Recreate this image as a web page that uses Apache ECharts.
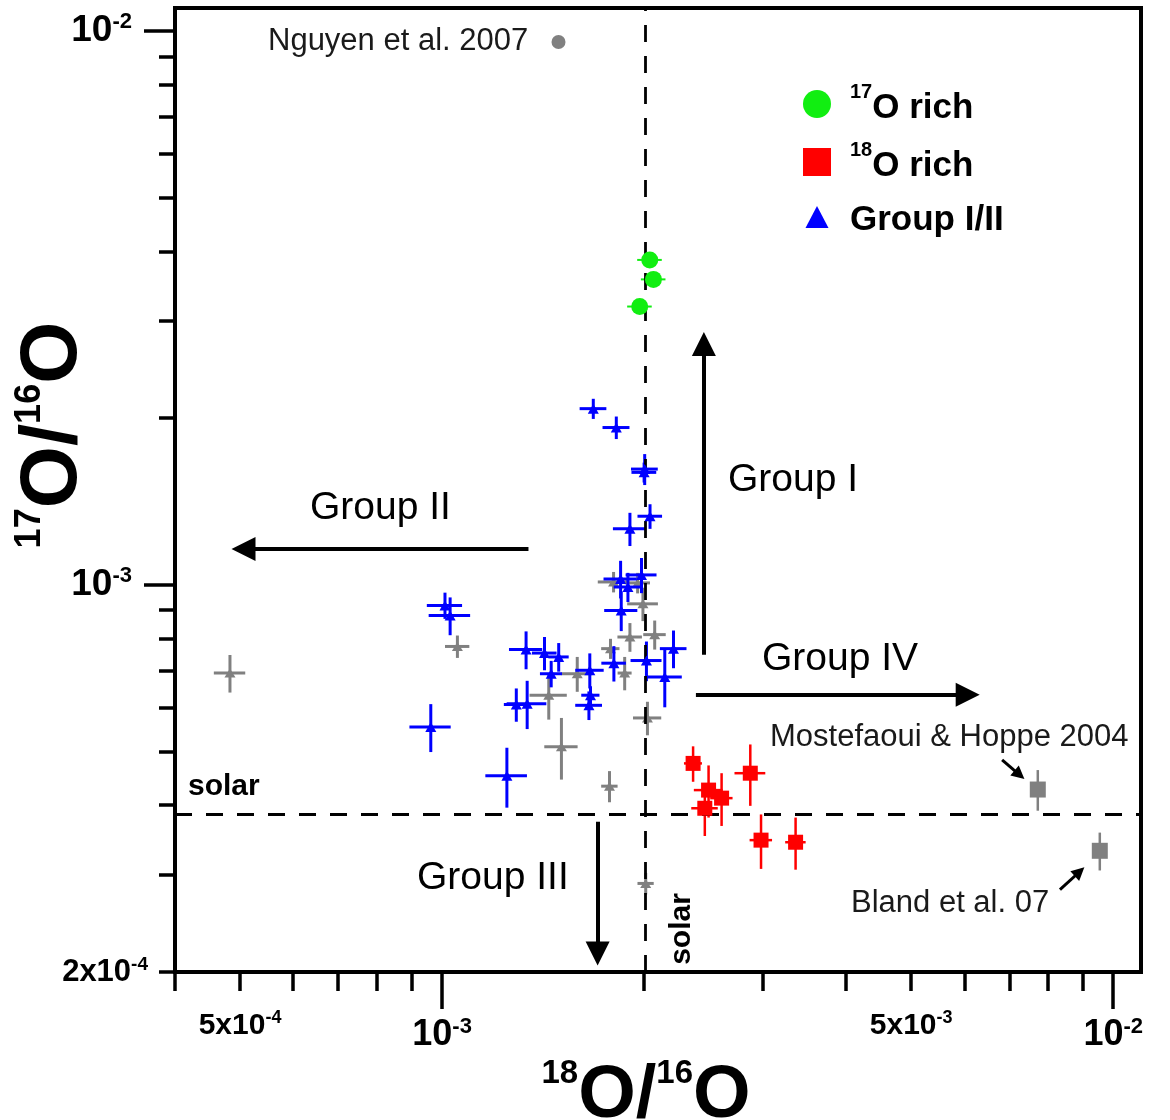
<!DOCTYPE html>
<html><head><meta charset="utf-8">
<script src="https://cdn.jsdelivr.net/npm/echarts@6/dist/echarts.min.js"></script>
<style>html,body{margin:0;padding:0;background:#fff}#c{width:1170px;height:1120px}</style>
</head><body><div id="c"></div>
<script>
// ---------------- data (18O/16O , 17O/16O , ±err) ----------------
const blueX = [1.010e-3, 1.028e-3, 9.62e-4, 1.249e-3, 1.334e-3, 1.421e-3, 1.492e-3, 1.454e-3, 1.290e-3, 1.339e-3, 1.660e-3, 1.664e-3, 1.655e-3, 1.803e-3, 1.849e-3, 1.845e-3, 1.892e-3, 1.982e-3, 2.016e-3, 2.212e-3, 2.147e-3, 1.680e-3, 1.818e-3, 2.004e-3, 2.000e-3, 2.041e-3, 1.905e-3];
const blueY = [9.18e-4, 8.80e-4, 5.54e-4, 4.52e-4, 7.64e-4, 7.53e-4, 7.41e-4, 6.91e-4, 6.08e-4, 6.10e-4, 7.01e-4, 6.32e-4, 6.06e-4, 7.22e-4, 8.99e-4, 1.025e-3, 9.91e-4, 1.042e-3, 7.30e-4, 7.67e-4, 6.82e-4, 2.08e-3, 1.923e-3, 1.618e-3, 1.596e-3, 1.330e-3, 1.262e-3];
const blueDX = [6.1e-5, 7.3e-5, 6.8e-5, 8.9e-5, 7.6e-5, 6.0e-5, 5.2e-5, 5.5e-5, 5.4e-5, 9.1e-5, 8.1e-5, 5.2e-5, 7.6e-5, 7.6e-5, 1.05e-4, 1.05e-4, 9.0e-5, 1.05e-4, 1.07e-4, 1.01e-4, 1.29e-4, 7.7e-5, 8.4e-5, 9.2e-5, 8.5e-5, 8.6e-5, 1.08e-4];
const blueDY = [5.0e-5, 6.9e-5, 5.5e-5, 5.6e-5, 6.0e-5, 5.2e-5, 4.4e-5, 3.8e-5, 4.2e-5, 6.1e-5, 5.1e-5, 2.4e-5, 3.6e-5, 5.3e-5, 7.4e-5, 8.0e-5, 6.0e-5, 7.6e-5, 6.0e-5, 6.0e-5, 8.1e-5, 8.7e-5, 9.0e-5, 1.04e-4, 6.6e-5, 6.8e-5, 8.7e-5];

const grayX = [1.054e-3, 1.442e-3, 1.506e-3, 1.590e-3, 1.782e-3, 1.905e-3, 1.871e-3, 2.074e-3, 1.992e-3, 2.023e-3, 1.776e-3, 1.801e-3, 1.956e-3, 2.011e-3, 4.83e-4];
const grayY = [7.74e-4, 6.32e-4, 5.10e-4, 6.91e-4, 7.67e-4, 8.05e-4, 6.93e-4, 8.13e-4, 9.24e-4, 5.75e-4, 4.33e-4, 1.012e-3, 1.008e-3, 2.89e-4, 6.93e-4];
const grayDX = [4.4e-5, 9.2e-5, 8.6e-5, 8.4e-5, 5.6e-5, 8.0e-5, 4.5e-5, 8.0e-5, 1.05e-4, 9.8e-5, 5.0e-5, 9.5e-5, 8.5e-5, 5.6e-5, 2.6e-5];
const grayDY = [3.6e-5, 6.1e-5, 6.5e-5, 5.0e-5, 3.2e-5, 4.8e-5, 4.8e-5, 4.9e-5, 6.4e-5, 4.0e-5, 2.8e-5, 4.3e-5, 4.3e-5, 1.3e-5, 5.4e-5];

const redX = [2.366e-3, 2.495e-3, 2.609e-3, 2.463e-3, 2.879e-3, 2.987e-3, 3.363e-3];
const redY = [4.76e-4, 4.26e-4, 4.12e-4, 3.95e-4, 4.57e-4, 3.46e-4, 3.43e-4];
const redDX = [7.3e-5, 1.23e-4, 1.00e-4, 1.12e-4, 1.52e-4, 1.15e-4, 1.18e-4];
const redDY = [3.5e-5, 4.6e-5, 4.5e-5, 4.3e-5, 5.8e-5, 3.9e-5, 3.7e-5];

const greenX = [2.039e-3, 2.065e-3, 1.970e-3];
const greenY = [3.86e-3, 3.56e-3, 3.18e-3];
const greenDX = [8.6e-5, 8.7e-5, 8.3e-5];
const greenDY = [5.0e-5, 5.0e-5, 5.0e-5];

const litX = [7.72e-3, 9.55e-3];          // Mostefaoui & Hoppe 2004, Bland et al. 07
const litY = [4.27e-4, 3.31e-4];
const litDX = [0, 0];
const litDY = [3.6e-5, 2.6e-5];

const nguyenX = [1.491e-3];
const nguyenY = [9.55e-3];

const solar18 = 2.01e-3;
const solar17 = 3.85e-4;

// ticks & labels
const xMinorTicks = [4e-4, 5e-4, 6e-4, 7e-4, 8e-4, 9e-4, 2e-3, 3e-3, 4e-3, 5e-3, 6e-3, 7e-3, 8e-3, 9e-3];
const xMajorTicks = [1e-3, 1e-2];
const xMinorLabels = [5e-4, 5e-3];
const yMinorTicks = [2e-4, 3e-4, 4e-4, 5e-4, 6e-4, 7e-4, 8e-4, 9e-4, 2e-3, 3e-3, 4e-3, 5e-3, 6e-3, 7e-3, 8e-3, 9e-3];
const yMajorTicks = [1e-3, 1e-2];
const yMinorLabels = [2e-4];

const legendNames = ['17O rich', '18O rich', 'Group I/II'];

// ---------------- chart ----------------
const FONT = '"Liberation Sans", Arial, sans-serif';
const chart = echarts.init(document.getElementById('c'), null, {renderer: 'canvas'});

function zip(xs, ys, dxs, dys) {
  return xs.map((x, i) => [x, ys[i], dxs ? dxs[i] : 0, dys ? dys[i] : 0]);
}
function errBars(color, width) {
  return function (params, api) {
    const x = api.value(0), y = api.value(1), dx = api.value(2), dy = api.value(3);
    const ch = [];
    if (dx > 0) {
      const a = api.coord([x - dx, y]), b = api.coord([x + dx, y]);
      ch.push({type: 'line', shape: {x1: a[0], y1: a[1], x2: b[0], y2: b[1]}, style: {stroke: color, lineWidth: width}});
    }
    if (dy > 0) {
      const a = api.coord([x, y - dy]), b = api.coord([x, y + dy]);
      ch.push({type: 'line', shape: {x1: a[0], y1: a[1], x2: b[0], y2: b[1]}, style: {stroke: color, lineWidth: width}});
    }
    return {type: 'group', children: ch};
  };
}
function expLabel(v) {
  const e = Math.floor(Math.log10(v) + 1e-9);
  const m = Math.round(v / Math.pow(10, e));
  return '{m|' + (m === 1 ? '' : m + 'x') + '10}{s|' + e + '}';
}
function richSup(F, s, pad) {
  return {
    m: {fontSize: F, fontWeight: 'bold', fontFamily: FONT, color: '#000'},
    s: {fontSize: s, fontWeight: 'bold', fontFamily: FONT, color: '#000', padding: [0, 0, pad, 0]},
    e: {width: 24}
  };
}
function legendFmt(name) {
  if (name === legendNames[0]) return '{g|}{s|17}{m|O rich}';
  if (name === legendNames[1]) return '{g|}{s|18}{m|O rich}';
  return '{g|}{m|' + name + '}';
}
const legendRich = {
  g: {width: 14, height: 46},
  m: {fontSize: 35, fontWeight: 'bold', fontFamily: FONT, color: '#000', padding: [8, 0, 0, 0]},
  s: {fontSize: 20, fontWeight: 'bold', fontFamily: FONT, color: '#000', padding: [0, 0, 24, 0]}
};
function makeLegend(name, icon, top) {
  return {
    orient: 'vertical', left: 803, top: top, padding: 0, itemWidth: 28, itemHeight: 28,
    selectedMode: false, data: [{name: name, icon: icon}],
    formatter: legendFmt, textStyle: {rich: legendRich}
  };
}

const XMIN = 3.9999e-4, XMAX = 1.1e-2, YMIN = 1.9999e-4, YMAX = 1.1e-2;
const baseAxis = {type: 'log', logBase: 10, splitLine: {show: false}, minorTick: {show: false}, minorSplitLine: {show: false}};

const option = {
  animation: false,
  backgroundColor: '#fff',
  grid: {left: 175, right: 29, top: 8, bottom: 148, show: true, borderColor: '#000', borderWidth: 4, containLabel: false, outerBoundsMode: 'none'},
  xAxis: [
    Object.assign({}, baseAxis, {
      min: XMIN, max: XMAX, position: 'bottom',
      axisLine: {show: true, lineStyle: {color: '#000', width: 4}},
      axisTick: {show: true, customValues: xMinorTicks, length: 19, lineStyle: {color: '#000', width: 3.5}},
      axisLabel: {show: true, customValues: xMinorLabels, margin: 37, formatter: expLabel, color: '#000', rich: richSup(30, 18, 15)}
    }),
    Object.assign({}, baseAxis, {
      min: XMIN, max: XMAX, position: 'bottom',
      axisLine: {show: false},
      axisTick: {show: true, customValues: xMajorTicks, length: 37, lineStyle: {color: '#000', width: 3.5}},
      axisLabel: {show: true, customValues: xMajorTicks, margin: 44, formatter: expLabel, color: '#000', rich: richSup(36, 22, 16)},
      name: '{s|18}{m|O/}{s|16}{m|O}{e|}', nameLocation: 'middle', nameGap: 73,
      nameTextStyle: {rich: richSup(74, 33, 45)}
    })
  ],
  yAxis: [
    Object.assign({}, baseAxis, {
      min: YMIN, max: YMAX, position: 'left',
      axisLine: {show: true, lineStyle: {color: '#000', width: 4}},
      axisTick: {show: true, customValues: yMinorTicks, length: 16, lineStyle: {color: '#000', width: 3.5}},
      axisLabel: {show: true, customValues: yMinorLabels, margin: 27, formatter: expLabel, color: '#000', rich: richSup(31, 19, 15)}
    }),
    Object.assign({}, baseAxis, {
      min: YMIN, max: YMAX, position: 'left',
      axisLine: {show: false},
      axisTick: {show: true, customValues: yMajorTicks, length: 31, lineStyle: {color: '#000', width: 3.5}},
      axisLabel: {show: true, customValues: yMajorTicks, margin: 43, formatter: expLabel, color: '#000', rich: richSup(37, 22, 17)}
    })
  ],
  legend: [
    makeLegend(legendNames[0], 'circle', 82),
    makeLegend(legendNames[1], 'rect', 140),
    makeLegend(legendNames[2], 'path://M0,0M28,28M2.5,26L14,4L25.5,26Z', 202)
  ],
  series: [
    {type: 'custom', name: 'grayErr', renderItem: errBars('#808080', 3), data: zip(grayX, grayY, grayDX, grayDY), encode: {x: 0, y: 1}, silent: true, z: 2},
    {type: 'scatter', name: 'gray', data: zip(grayX, grayY), symbol: 'triangle', symbolSize: [11, 9], itemStyle: {color: '#808080', opacity: 1}, silent: true, z: 3,
      markLine: {silent: true, animation: false, symbol: ['none', 'none'], label: {show: false},
        lineStyle: {color: '#000', type: [17, 14], width: 2.8},
        data: [
          [{coord: [solar18, 2.0e-4]}, {coord: [solar18, 1.099e-2]}],
          [{coord: [4.0e-4, solar17]}, {coord: [1.099e-2, solar17]}]
        ]}},
    {type: 'custom', name: 'litErr', renderItem: errBars('#808080', 2.5), data: zip(litX, litY, litDX, litDY), encode: {x: 0, y: 1}, silent: true, z: 2},
    {type: 'scatter', name: 'lit', data: zip(litX, litY), symbol: 'rect', symbolSize: 16, itemStyle: {color: '#808080', opacity: 1}, silent: true, z: 3,
      markLine: {silent: true, animation: false, symbol: ['none', 'triangle'], symbolSize: 13, label: {show: false},
        lineStyle: {color: '#000', type: 'solid', width: 3},
        data: [
          [{coord: [6.83e-3, 4.83e-4]}, {coord: [7.25e-3, 4.54e-4]}],
          [{coord: [8.33e-3, 2.817e-4]}, {coord: [8.91e-3, 3.034e-4]}]
        ]}},
    {type: 'scatter', name: 'nguyen', data: zip(nguyenX, nguyenY), symbol: 'circle', symbolSize: 14, itemStyle: {color: '#808080', opacity: 1}, silent: true, z: 3,
      markLine: {silent: true, animation: false, symbol: ['none', 'triangle'], symbolSize: 24, label: {show: false},
        lineStyle: {color: '#000', type: 'solid', width: 4},
        data: [
          [{coord: [1.345e-3, 1.161e-3]}, {coord: [5.06e-4, 1.161e-3]}],
          [{coord: [2.455e-3, 7.48e-4]}, {coord: [2.455e-3, 2.722e-3]}],
          [{coord: [2.389e-3, 6.33e-4]}, {coord: [6.07e-3, 6.33e-4]}],
          [{coord: [1.705e-3, 3.735e-4]}, {coord: [1.705e-3, 2.159e-4]}]
        ]}},
    {type: 'custom', name: 'blueErr', renderItem: errBars('#0000ff', 3), data: zip(blueX, blueY, blueDX, blueDY), encode: {x: 0, y: 1}, silent: true, z: 4},
    {type: 'scatter', name: legendNames[2], data: zip(blueX, blueY), symbol: 'triangle', symbolSize: [11, 10], itemStyle: {color: '#0000ff', opacity: 1}, silent: true, z: 5},
    {type: 'custom', name: 'redErr', renderItem: errBars('#ff0000', 2.5), data: zip(redX, redY, redDX, redDY), encode: {x: 0, y: 1}, silent: true, z: 4},
    {type: 'scatter', name: legendNames[1], data: zip(redX, redY), symbol: 'rect', symbolSize: 15, itemStyle: {color: '#ff0000', opacity: 1}, silent: true, z: 5},
    {type: 'custom', name: 'greenErr', renderItem: errBars('#11ee11', 2), data: zip(greenX, greenY, greenDX, greenDY), encode: {x: 0, y: 1}, silent: true, z: 4},
    {type: 'scatter', name: legendNames[0], data: zip(greenX, greenY), symbol: 'circle', symbolSize: 17, itemStyle: {color: '#11ee11', opacity: 1}, silent: true, z: 5}
  ],
  graphic: [
    {type: 'text', x: 54, y: 435, rotation: Math.PI / 2, style: {text: '{s|17}{m|O/}{s|16}{m|O}', rich: richSup(80, 36, 48), align: 'center', verticalAlign: 'middle'}},
    {type: 'text', x: 268, y: 41, style: {text: 'Nguyen et al. 2007', font: '31px ' + FONT, fill: '#1a1a1a', align: 'left', verticalAlign: 'middle'}},
    {type: 'text', x: 310, y: 508, style: {text: 'Group II', font: '39px ' + FONT, fill: '#000', align: 'left', verticalAlign: 'middle'}},
    {type: 'text', x: 728, y: 480, style: {text: 'Group I', font: '39px ' + FONT, fill: '#000', align: 'left', verticalAlign: 'middle'}},
    {type: 'text', x: 762, y: 659, style: {text: 'Group IV', font: '39px ' + FONT, fill: '#000', align: 'left', verticalAlign: 'middle'}},
    {type: 'text', x: 417, y: 878, style: {text: 'Group III', font: '39px ' + FONT, fill: '#000', align: 'left', verticalAlign: 'middle'}},
    {type: 'text', x: 770, y: 737, style: {text: 'Mostefaoui & Hoppe 2004', font: '31px ' + FONT, fill: '#1a1a1a', align: 'left', verticalAlign: 'middle'}},
    {type: 'text', x: 851, y: 903, style: {text: 'Bland et al. 07', font: '31px ' + FONT, fill: '#1a1a1a', align: 'left', verticalAlign: 'middle'}},
    {type: 'text', x: 188, y: 787, style: {text: 'solar', font: 'bold 30px ' + FONT, fill: '#000', align: 'left', verticalAlign: 'middle'}},
    {type: 'text', x: 682, y: 929, rotation: Math.PI / 2, style: {text: 'solar', font: 'bold 30px ' + FONT, fill: '#000', align: 'center', verticalAlign: 'middle'}}
  ]
};
chart.setOption(option);
</script>
</body></html>
